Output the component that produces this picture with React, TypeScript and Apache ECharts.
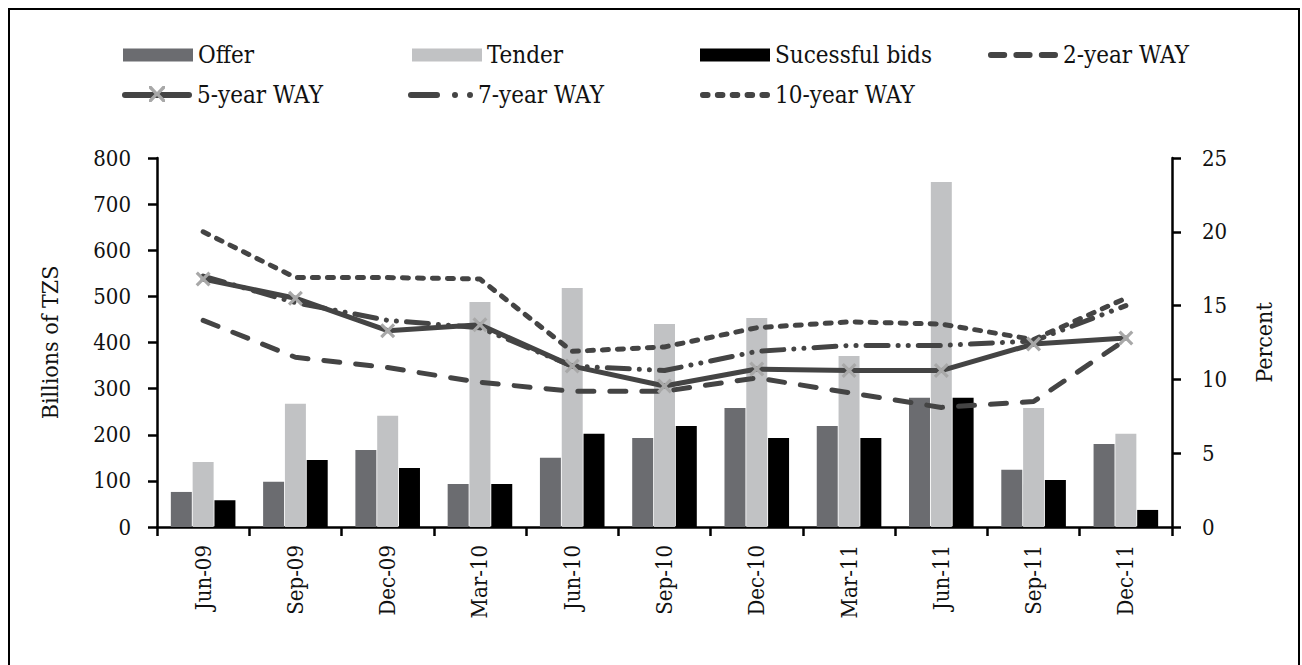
import React, { useEffect, useRef } from "react";
import * as echarts from "echarts";

const categories = ["Jun-09", "Sep-09", "Dec-09", "Mar-10", "Jun-10", "Sep-10", "Dec-10", "Mar-11", "Jun-11", "Sep-11", "Dec-11"];
const offer = [76, 98, 167, 93, 150, 193, 258, 219, 280, 124, 180];
const tender = [141, 267, 241, 488, 518, 440, 453, 371, 748, 258, 202];
const successful = [58, 145, 128, 93, 202, 219, 193, 193, 280, 102, 37];
const way2 = [14.0, 11.5, 10.8, 9.8, 9.2, 9.2, 10.1, 9.1, 8.1, 8.5, 12.7];
const way5 = [16.8, 15.5, 13.3, 13.7, 10.9, 9.55, 10.7, 10.6, 10.6, 12.4, 12.8];
const way7 = [17.0, 15.2, 14.0, 13.5, 10.9, 10.6, 11.9, 12.3, 12.3, 12.6, 15.0];
const way10 = [20.0, 16.9, 16.9, 16.8, 11.9, 12.2, 13.5, 13.9, 13.75, 12.7, 15.5];
const leftTicks = { min: 0, max: 800, interval: 100 };
const rightTicks = { min: 0, max: 25, interval: 5 };

const FONT = "'DejaVu Serif Condensed', 'Liberation Serif', serif";
const LINE = "#444444";
const X_MARK = "path://M0,1.5 L1.5,0 L5,3.5 L8.5,0 L10,1.5 L6.5,5 L10,8.5 L8.5,10 L5,6.5 L1.5,10 L0,8.5 L3.5,5 Z";

// rounded dash from x0 to x1, height 6
const dash = (x0: number, x1: number) =>
  `M${x0 + 3},0 H${x1 - 3} A3,3 0 0 1 ${x1 - 3},6 H${x0 + 3} A3,3 0 0 1 ${x0 + 3},0 Z`;
const ICON_2 = "path://" + dash(0, 20) + " " + dash(26.5, 46.5) + " " + dash(53, 73);
const ICON_5 = "path://" + dash(0, 70);
const ICON_7 = "path://" + dash(0, 32) + " " + dash(44, 50) + " " + dash(59, 65);
const ICON_10 = "path://" + dash(0, 11) + " " + dash(15.5, 26.5) + " " + dash(31, 42) + " " + dash(46.5, 57.5) + " " + dash(62, 73);

export default function App() {
  const ref = useRef<HTMLDivElement>(null);
  useEffect(() => {
    if (!ref.current) return;
    const chart = echarts.init(ref.current, undefined, { renderer: "svg" });
    const textStyle = { fontFamily: FONT, fontSize: 21, color: "#111" };
    const legendPos = [
      { name: "Offer", left: 123, top: 43, w: 70, h: 13, icon: "rect" },
      { name: "Tender", left: 412, top: 43, w: 70, h: 13, icon: "rect" },
      { name: "Sucessful bids", left: 700, top: 43, w: 70, h: 13, icon: "rect" },
      { name: "2-year WAY", left: 988, top: 43, w: 70, h: 6, icon: ICON_2 },
      { name: "5-year WAY", left: 122, top: 83, w: 70, h: 6, icon: ICON_5 },
      { name: "7-year WAY", left: 408, top: 83, w: 65, h: 6, icon: ICON_7 },
      { name: "10-year WAY", left: 700, top: 83, w: 70, h: 6, icon: ICON_10 },
    ];
    const lineSeries = (name: string, data: number[], type: any, extra: any = {}) => ({
      name,
      type: "line",
      yAxisIndex: 1,
      data,
      symbol: "none",
      z: 5,
      lineStyle: { color: LINE, width: 5, type, cap: "round", join: "round" },
      itemStyle: { color: LINE },
      ...extra,
    });
    chart.setOption({
      animation: false,
      backgroundColor: "#fff",
      graphic: [
        {
          type: "rect",
          shape: { x: 9, y: 9, width: 1290, height: 700 },
          style: { fill: "none", stroke: "#000", lineWidth: 2 },
          silent: true,
        },
        {
          type: "polygon",
          z: 100,
          shape: {
            points: [
              [149, 86], [151.5, 86], [157, 92], [162.5, 86], [165, 86], [165, 88.5],
              [159.5, 94], [165, 99.5], [165, 102], [162.5, 102], [157, 96], [151.5, 102],
              [149, 102], [149, 99.5], [154.5, 94], [149, 88.5],
            ],
          },
          style: { fill: "#a8a8a8" },
          silent: true,
        },
      ],
      legend: legendPos.map((l) => ({
        data: [{ name: l.name, icon: l.icon, itemStyle: l.icon === "rect" ? undefined : { color: LINE } }],
        left: l.left,
        top: l.top,
        padding: 0,
        itemWidth: l.w,
        itemHeight: l.h,
        itemGap: 10,
        textStyle: { ...textStyle, fontSize: 24 },
        selectedMode: false,
      })),
      grid: { left: 157, right: 130, top: 158, bottom: 138 },
      xAxis: {
        type: "category",
        data: categories,
        boundaryGap: true,
        axisLine: { lineStyle: { color: "#000", width: 2.5 } },
        axisTick: { show: true, inside: false, length: 9, alignWithLabel: false, lineStyle: { color: "#000", width: 2.5 } },
        axisLabel: { rotate: 90, margin: 18, ...textStyle, fontSize: 22 },
      },
      yAxis: [
        {
          type: "value",
          ...leftTicks,
          name: "Billions of TZS",
          nameLocation: "middle",
          nameRotate: 90,
          nameGap: 96,
          nameTextStyle: { ...textStyle, fontSize: 23 },
          axisLine: { show: true, lineStyle: { color: "#000", width: 2.5 } },
          axisTick: { show: true, length: 9, lineStyle: { color: "#000", width: 2.5 } },
          axisLabel: { ...textStyle, fontSize: 22, margin: 26 },
          splitLine: { show: false },
        },
        {
          type: "value",
          ...rightTicks,
          position: "right",
          name: "Percent",
          nameLocation: "middle",
          nameRotate: 90,
          nameGap: 80,
          nameTextStyle: { ...textStyle, fontSize: 23 },
          axisLine: { show: true, lineStyle: { color: "#000", width: 2.5 } },
          axisTick: { show: true, length: 9, lineStyle: { color: "#000", width: 2.5 } },
          axisLabel: { ...textStyle, fontSize: 22, margin: 30 },
          splitLine: { show: false },
        },
      ],
      series: [
        { name: "Offer", type: "bar", data: offer, barCategoryGap: "30%", barGap: "4%", itemStyle: { color: "#6b6c70" } },
        { name: "Tender", type: "bar", data: tender, itemStyle: { color: "#c1c2c4" } },
        { name: "Sucessful bids", type: "bar", data: successful, itemStyle: { color: "#000000" } },
        lineSeries("2-year WAY", way2, [16, 16]),
        lineSeries("5-year WAY", way5, "solid", {
          symbol: X_MARK,
          symbolSize: 15,
          itemStyle: { color: "#a8a8a8" },
        }),
        lineSeries("7-year WAY", way7, [22, 10, 0.1, 10, 0.1, 10]),
        lineSeries("10-year WAY", way10, [6, 9]),
      ],
    });
    return () => chart.dispose();
  }, []);
  return <div ref={ref} style={{ position: "fixed", left: 0, top: 0, width: 1302, height: 665 }} />;
}
